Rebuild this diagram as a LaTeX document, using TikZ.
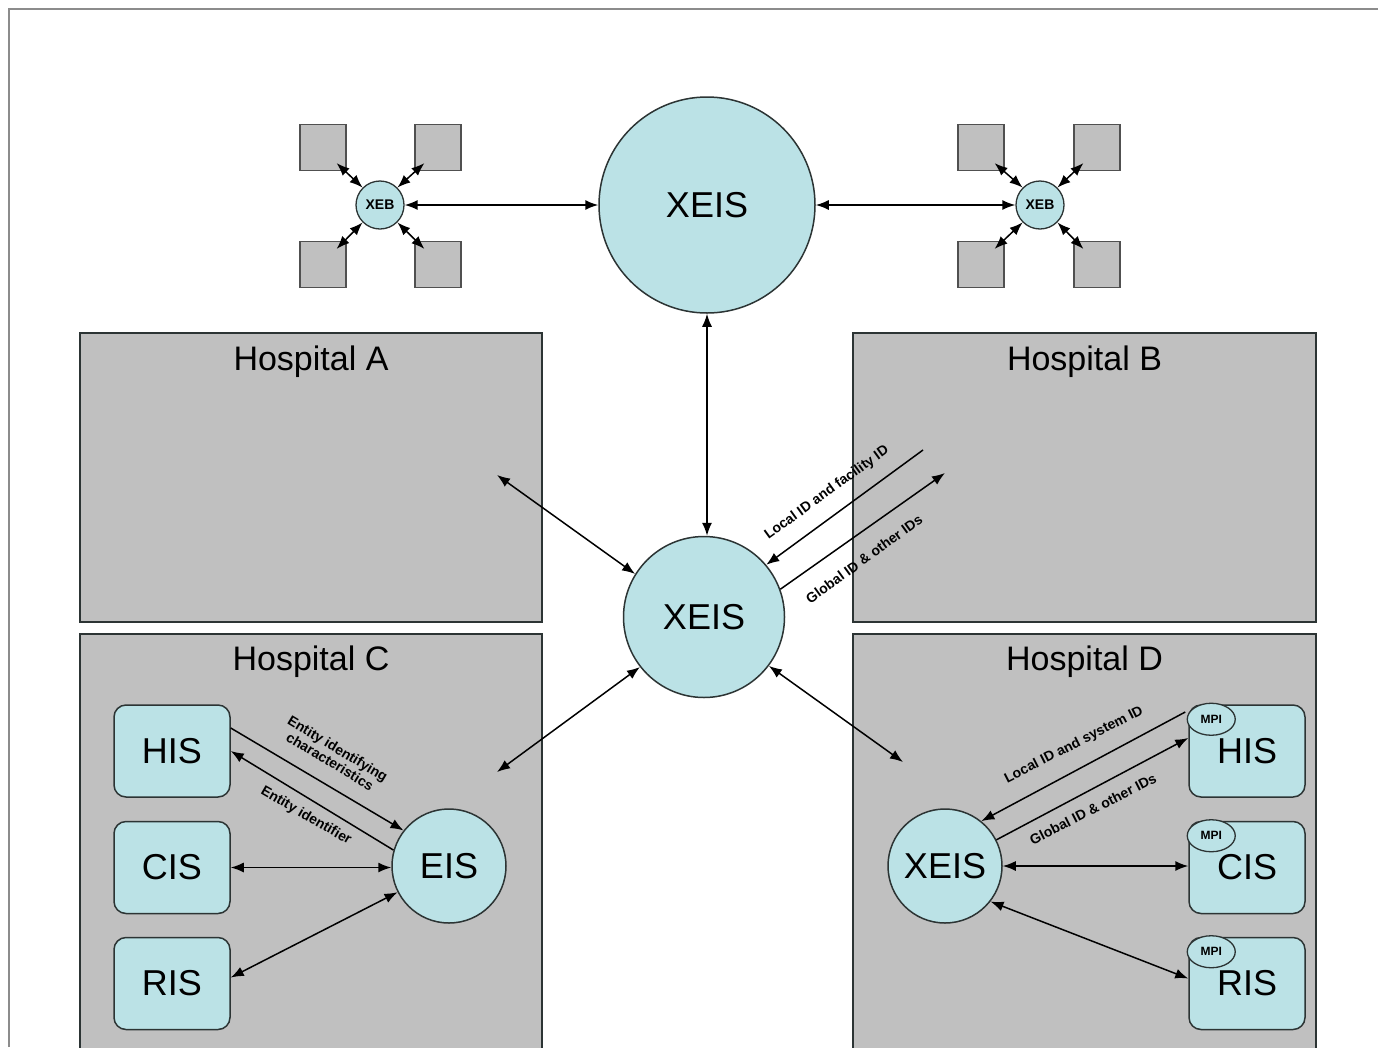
\documentclass[tikz,border=0pt]{standalone}
\usepackage{fontspec}
\setmainfont{Liberation Sans}
\usetikzlibrary{arrows.meta,calc,shapes.geometric}
\definecolor{cy}{HTML}{BBE2E6}
\definecolor{hg}{HTML}{C0C0C0}
\definecolor{bd}{HTML}{2C3434}
\definecolor{sqb}{HTML}{505050}
\definecolor{frm}{HTML}{8C8C8C}
\begin{document}
\begin{tikzpicture}[x=1pt,y=-1pt,
  hosp/.style={draw=bd, fill=hg, line width=1.3pt, rectangle, inner sep=0pt},
  htitle/.style={font=\fontsize{34}{38}\selectfont, inner sep=0pt},
  sysbox/.style={draw=bd, fill=cy, line width=1.5pt, rounded corners=12pt, minimum width=116pt, minimum height=92pt, inner sep=0pt, font=\fontsize{36}{40}\selectfont},
  circ/.style={circle, draw=bd, fill=cy, line width=1.5pt, inner sep=0pt, font=\fontsize{36}{40}\selectfont},
  xeb/.style={circle, draw=bd, fill=cy, line width=1.3pt, inner sep=0pt, minimum size=48pt, font=\bfseries\fontsize{14}{15}\selectfont},
  sqn/.style={draw=sqb, fill=hg, line width=1.2pt, minimum size=46pt, inner sep=0pt},
  mpi/.style={ellipse, draw=bd, fill=cy, line width=1.3pt, minimum width=48pt, minimum height=32pt, inner sep=0pt, font=\bfseries\fontsize{12}{13}\selectfont},
  arr/.style={line width=1.5pt, -{Latex[length=13pt,width=10pt]}},
  dbl/.style={line width=1.5pt, {Latex[length=13pt,width=10pt]}-{Latex[length=13pt,width=10pt]}},
  lbl/.style={font=\bfseries\fontsize{14}{15}\selectfont, inner sep=0pt, align=center}
]
\clip (0,0) rectangle (1378,1047);
\fill[white] (0,0) rectangle (1378,1047);
\draw[frm, line width=2.5pt] (9,1047) -- (9,9) -- (1378,9);

% hospitals
\node[hosp, minimum width=462pt, minimum height=289pt] (hA) at (311,477.5) {};
\node[hosp, minimum width=463pt, minimum height=289pt] (hB) at (1084.5,477.5) {};
\node[hosp, minimum width=462pt, minimum height=436pt] (hC) at (311,852) {};
\node[hosp, minimum width=463pt, minimum height=436pt] (hD) at (1084.5,852) {};
\node[htitle] (tA) at ($(hA.north)+(0,29)$) {Hospital A};
\node[htitle] (tB) at ($(hB.north)+(0,29)$) {Hospital B};
\node[htitle] (tC) at ($(hC.north)+(0,28)$) {Hospital C};
\node[htitle] (tD) at ($(hD.north)+(0,28)$) {Hospital D};

% top XEIS and XEB clusters
\node[circ, minimum size=216pt] (x1) at (707,205) {XEIS};
\node[circ, minimum size=161pt] (x2) at (704,617) {XEIS};
\node[xeb] (xbL) at (380,205) {XEB};
\node[xeb] (xbR) at (1040,205) {XEB};
\node[sqn] (l1) at (323,147.5) {};
\node[sqn] (l2) at (438,147.5) {};
\node[sqn] (l3) at (323,264.5) {};
\node[sqn] (l4) at (438,264.5) {};
\node[sqn] (r1) at (981,147.5) {};
\node[sqn] (r2) at (1097,147.5) {};
\node[sqn] (r3) at (981,264.5) {};
\node[sqn] (r4) at (1097,264.5) {};

\draw[dbl] ($(l1.south east)+(-10,-8)$) -- (xbL.135);
\draw[dbl] ($(l2.south west)+(10,-8)$) -- (xbL.45);
\draw[dbl] ($(l3.north east)+(-10,8)$) -- (xbL.225);
\draw[dbl] ($(l4.north west)+(10,8)$) -- (xbL.315);
\draw[dbl] ($(r1.south east)+(-10,-8)$) -- (xbR.135);
\draw[dbl] ($(r2.south west)+(10,-8)$) -- (xbR.45);
\draw[dbl] ($(r3.north east)+(-10,8)$) -- (xbR.225);
\draw[dbl] ($(r4.north west)+(10,8)$) -- (xbR.315);

\draw[dbl] (xbL.east) -- (x1.west);
\draw[dbl] (x1.east) -- (xbR.west);
\draw[dbl] (x1.south) -- (x1.south |- x2.north);

% links to hospitals
\coordinate (pA) at (497,475);
\coordinate (pC) at (497,772);
\coordinate (pD) at (903,762);
\coordinate (pB1) at (923,450);
\coordinate (pB2) at (945,473);
\draw[dbl] (pA) -- (x2.148);
\draw[dbl] (pC) -- (x2.218);
\draw[dbl] (pD) -- (x2.323);
\draw[arr] (pB1) -- (x2.40);
\draw[arr] (x2.20) -- (pB2);
\node[lbl, rotate=36] (lb1) at (827,493) {Local ID and facility ID};
\node[lbl, rotate=36] (lb2) at (864,559) {Global ID \& other IDs};

% Hospital C
\node[sysbox] (hisC) at (172,751) {HIS};
\node[sysbox] (cisC) at (172,867.5) {CIS};
\node[sysbox] (risC) at (172,983.5) {RIS};
\node[circ, minimum size=114pt] (eis) at (449,866) {EIS};
\draw[arr] ($(hisC.east)+(0,-23)$) -- (eis.142);
\draw[arr] (eis.164) -- (hisC.east);
\draw[dbl] (cisC.east) -- (cisC.east -| eis.west);
\draw[dbl] ($(risC.east)+(0,-6)$) -- (eis.207);
\node[lbl, rotate=-31] (lc1) at (334,755) {Entity identifying\\characteristics};
\node[lbl, rotate=-30] (lc2) at (306,816) {Entity identifier};

% Hospital D
\node[sysbox] (hisD) at (1247,751) {HIS};
\node[sysbox] (cisD) at (1247,867.5) {CIS};
\node[sysbox] (risD) at (1247,983.5) {RIS};
\node[circ, minimum size=114pt] (xD) at (945,866) {XEIS};
\node[mpi] (m1) at ($(hisD.north west)+(23,15)$) {MPI};
\node[mpi] (m2) at ($(cisD.north west)+(23,15)$) {MPI};
\node[mpi] (m3) at ($(risD.north west)+(23,15)$) {MPI};
\draw[arr] ($(hisD.west)+(-3,-39)$) -- (xD.51);
\draw[arr] (xD.27) -- ($(hisD.west)+(0,-13)$);
\draw[dbl] (xD.east) -- (xD.east -| cisD.west);
\draw[dbl] (xD.322) -- ($(risD.west)+(0,-5)$);
\node[lbl, rotate=27] (ld1) at (1074,745) {Local ID and system ID};
\node[lbl, rotate=27] (ld2) at (1093,809) {Global ID \& other IDs};
\end{tikzpicture}
\end{document}
